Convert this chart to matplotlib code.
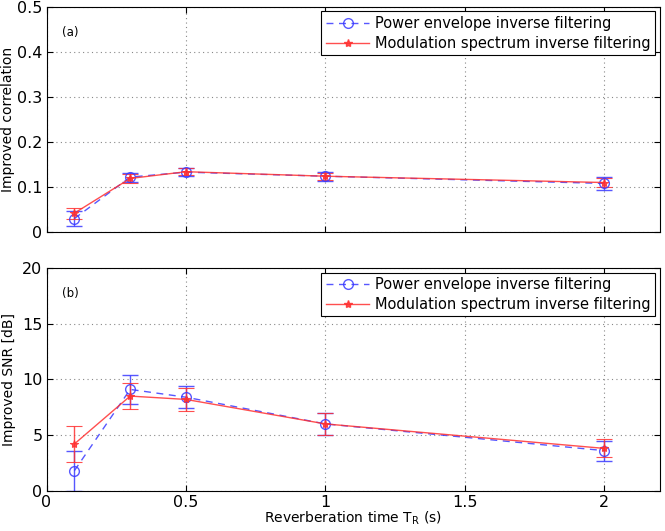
import matplotlib
matplotlib.use("Agg")
import matplotlib.pyplot as plt
from matplotlib.lines import Line2D

# reverberation times (s)
t_r = [0.1, 0.3, 0.5, 1.0, 2.0]

# (a) improved correlation
corr_pe = [0.030, 0.122, 0.133, 0.124, 0.108]
corr_pe_err = [0.016, 0.010, 0.009, 0.010, 0.015]
corr_ms = [0.042, 0.119, 0.134, 0.124, 0.110]
corr_ms_err = [0.012, 0.009, 0.008, 0.008, 0.010]

# (b) improved SNR [dB]
snr_pe = [1.8, 9.1, 8.4, 6.0, 3.6]
snr_pe_err = [1.8, 1.3, 1.0, 1.0, 0.9]
snr_ms = [4.2, 8.5, 8.2, 6.0, 3.8]
snr_ms_err = [1.6, 1.2, 1.0, 1.0, 0.8]

LABEL_PE = "Power envelope inverse filtering"
LABEL_MS = "Modulation spectrum inverse filtering"
BLUE = "#3a3aff"
RED = "#ff3030"

plt.rcParams["font.family"] = "DejaVu Sans"

fig = plt.figure(figsize=(6.65, 5.31), dpi=100)
ax_a = fig.add_axes([0.070, 0.563, 0.922, 0.424])
ax_b = fig.add_axes([0.070, 0.076, 0.922, 0.419])

handles = [
    Line2D([], [], color=BLUE, ls="--", lw=1.0, marker="o", ms=7,
           mfc="none", alpha=0.85, dashes=(5, 4)),
    Line2D([], [], color=RED, ls="-", lw=1.0, marker="*", ms=6, alpha=0.85),
]


def panel(ax, pe, pe_err, ms, ms_err, ylim, yticks, tag):
    ax.errorbar(t_r, pe, yerr=pe_err, color=BLUE, ls="--", lw=1.0,
                marker="o", ms=7, mfc="none", mec=BLUE, mew=1.0,
                capsize=6, elinewidth=1.0, alpha=0.85, dashes=(5, 4))
    ax.errorbar(t_r, ms, yerr=ms_err, color=RED, ls="-", lw=1.0,
                marker="*", ms=6, mfc=RED, mec=RED, mew=0.8,
                capsize=6, elinewidth=1.0, alpha=0.85)
    ax.set_xlim(0, 2.2)
    ax.set_ylim(*ylim)
    ax.set_xticks([0, 0.5, 1, 1.5, 2])
    ax.set_yticks(yticks)
    ax.grid(True, ls=(0, (1, 3)), color="#888888", lw=0.8)
    ax.tick_params(direction="in", top=True, right=True, labelsize=11.5, length=4, pad=3)
    for s in ax.spines.values():
        s.set_linewidth(0.8)
    ax.text(0.025, 0.87, tag, transform=ax.transAxes, fontsize=8.5)
    leg = ax.legend(handles, [LABEL_PE, LABEL_MS], loc="upper right",
                    fontsize=10.5, frameon=True, fancybox=False,
                    framealpha=1, edgecolor="black", borderpad=0.3,
                    handlelength=3.0, handletextpad=0.4, labelspacing=0.35,
                    borderaxespad=0.3)
    leg.get_frame().set_linewidth(0.8)


panel(ax_a, corr_pe, corr_pe_err, corr_ms, corr_ms_err, (0, 0.5),
      [0, 0.1, 0.2, 0.3, 0.4, 0.5], "(a)")
ax_a.set_xticklabels([])
ax_a.set_yticklabels(["0", "0.1", "0.2", "0.3", "0.4", "0.5"])
ax_a.set_ylabel("Improved correlation", fontsize=10, labelpad=1)

panel(ax_b, snr_pe, snr_pe_err, snr_ms, snr_ms_err, (0, 20),
      [0, 5, 10, 15, 20], "(b)")
ax_b.set_xticklabels(["0", "0.5", "1", "1.5", "2"])
ax_b.set_ylabel("Improved SNR [dB]", fontsize=10, labelpad=4)
ax_b.set_xlabel("Reverberation time T$_\\mathregular{R}$ (s)", fontsize=10, labelpad=0)

fig.savefig("out.png", dpi=100)
